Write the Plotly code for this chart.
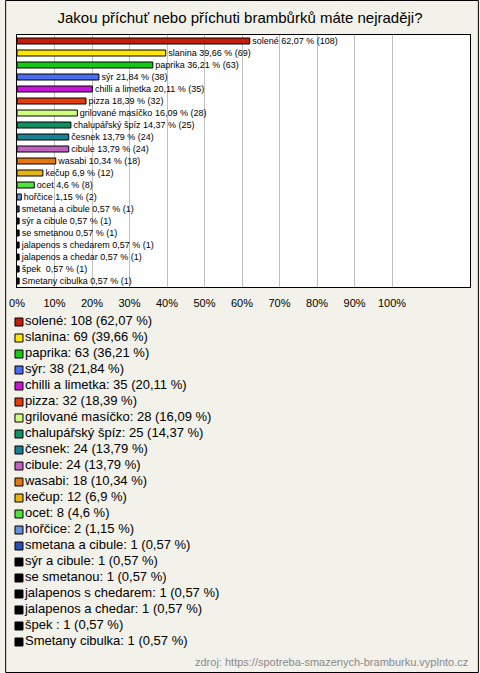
import plotly.graph_objects as go

# data
flavours = ['solené', 'slanina', 'paprika', 'sýr', 'chilli a limetka', 'pizza',
            'grilované masíčko', 'chalupářský špíz', 'česnek', 'cibule', 'wasabi',
            'kečup', 'ocet', 'hořčice', 'smetana a cibule', 'sýr a cibule',
            'se smetanou', 'jalapenos s chedarem', 'jalapenos a chedar', 'špek ',
            'Smetany cibulka']
counts = [108, 69, 63, 38, 35, 32, 28, 25, 24, 24, 18, 12, 8, 2, 1, 1, 1, 1, 1, 1, 1]
percents = [62.07, 39.66, 36.21, 21.84, 20.11, 18.39, 16.09, 14.37, 13.79, 13.79,
            10.34, 6.9, 4.6, 1.15, 0.57, 0.57, 0.57, 0.57, 0.57, 0.57, 0.57]
colors = ['#c41e0a', '#ffe600', '#14c814', '#4a6cf0', '#c814d8', '#e43c0a',
          '#d0ff80', '#109060', '#188090', '#c060c0', '#e47810', '#e8b410',
          '#50e040', '#6890dc', '#2850b0', '#000000', '#000000', '#000000',
          '#000000', '#000000', '#000000']
tick_vals = [0, 10, 20, 30, 40, 50, 60, 70, 80, 90, 100]
tick_text = [f"{v}%" for v in tick_vals]

title = 'Jakou příchuť nebo příchuti brambůrků máte nejraději?'
source = 'zdroj: https://spotreba-smazenych-bramburku.vyplnto.cz'


def fmt(p):
    return f"{p:.2f}".rstrip('0').rstrip('.').replace('.', ',')


bar_text = ["\u00a0" + f"{f} {fmt(p)} % ({c})" for f, p, c in zip(flavours, percents, counts)]
legend_text = [f"{f}: {c} ({fmt(p)} %)" for f, p, c in zip(flavours, percents, counts)]

W, H = 480, 673
ml, mr, mt, mb = 12, 9, 35, 15
ph = H - mt - mb
pw = W - ml - mr
n = len(flavours)
bg = '#f2f1ea'

fig = go.Figure()

fig.add_trace(go.Bar(
    x=percents, y=flavours, orientation='h',
    marker=dict(color=colors, line=dict(color='black', width=1)),
    width=0.5,
    text=bar_text, textposition='outside', cliponaxis=False,
    constraintext='none',
    textfont=dict(size=9, color='black', family='Liberation Sans, Arial'),
    hoverinfo='skip', showlegend=False,
))

# list of answers under the chart, drawn on its own hidden axes
fig.add_trace(go.Scatter(
    x=[0] * n, y=flavours, mode='markers+text', xaxis='x2', yaxis='y2',
    marker=dict(symbol='square', size=8, color=colors, line=dict(color='black', width=1)),
    text=legend_text, textposition='middle right', cliponaxis=False,
    textfont=dict(size=13, color='black', family='Liberation Sans, Arial'),
    hoverinfo='skip', showlegend=False,
))

fig.update_layout(
    width=W, height=H,
    margin=dict(l=ml, r=mr, t=mt, b=mb),
    paper_bgcolor=bg,
    plot_bgcolor=bg,
    font=dict(family='Liberation Sans, Arial', color='black'),
    title=dict(text=title, x=0.5, xanchor='center', y=1 - 18 / H, yanchor='middle',
               font=dict(size=15, color='black')),
    xaxis=dict(range=[0, pw / 3.8], tickvals=tick_vals, ticktext=tick_text,
               showgrid=True, gridcolor='#c0c0c0', gridwidth=1,
               showline=True, linecolor='black', linewidth=1, mirror=True,
               zeroline=False, ticklabelstandoff=6, anchor='y',
               tickfont=dict(size=11, color='black', family='Liberation Sans, Arial'),
               domain=[0, 1]),
    yaxis=dict(type='category', range=[n - 0.5, -0.5], showticklabels=False,
               showgrid=False, showline=True, linecolor='black', linewidth=1,
               mirror=True, anchor='x', domain=[1 - 252 / ph, 1]),
    xaxis2=dict(range=[-2, pw - 2], visible=False, anchor='y2', domain=[0, 1]),
    yaxis2=dict(type='category', range=[n - 0.5, -0.5], visible=False, anchor='x2',
                domain=[(H - mb - 650) / ph, (H - mb - 314) / ph]),
)

# white plot area for the bar chart
fig.add_shape(type='rect', xref='x domain', yref='y domain', x0=0, x1=1, y0=0, y1=1,
              fillcolor='white', line=dict(width=0), layer='below')

fig.add_annotation(text=source, xref='paper', yref='paper', x=1, y=(H - mb - 662) / ph,
                   xanchor='right', yanchor='middle', showarrow=False,
                   font=dict(size=11, color='#8a8a8a', family='Liberation Sans, Arial'))

# outer frame of the picture
fig.add_shape(type='rect', xref='paper', yref='paper',
              x0=(0.5 - ml) / pw, x1=(W - 0.5 - ml) / pw,
              y0=(H - mb - (H - 0.5)) / ph, y1=(H - mb - 0.5) / ph,
              line=dict(color='black', width=1), fillcolor='rgba(0,0,0,0)')

fig.write_html("out.html", config={'displayModeBar': False},
               post_script="document.body.style.margin='0';document.body.style.overflow='hidden';")
